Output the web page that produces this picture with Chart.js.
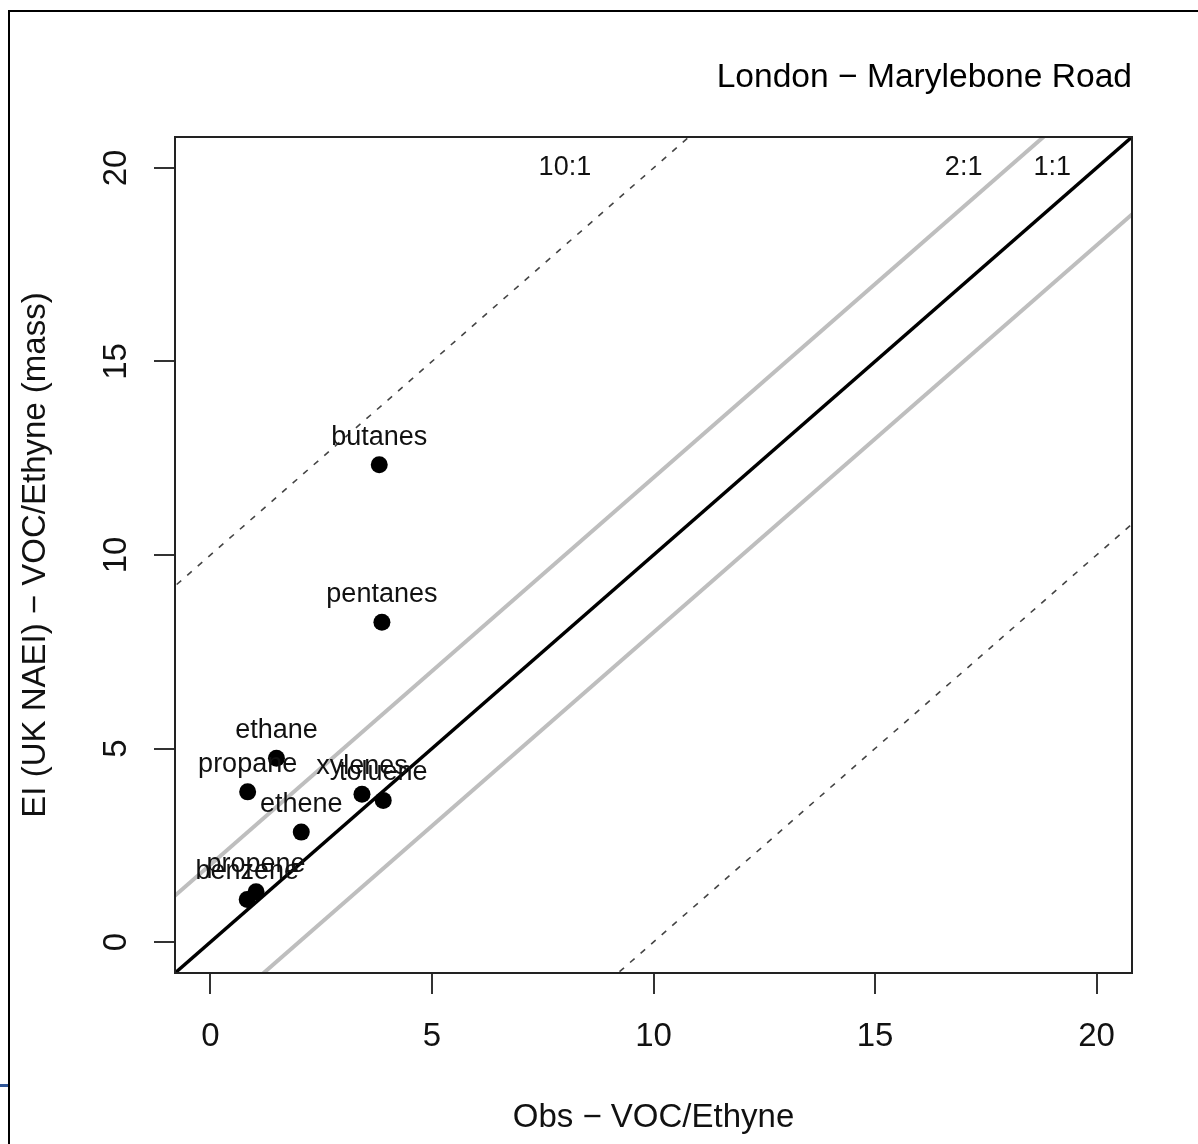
<!DOCTYPE html>
<html>
<head>
<meta charset="utf-8">
<script src="https://cdn.jsdelivr.net/npm/chart.js@4/dist/chart.umd.min.js"></script>
<style>
  html, body { margin: 0; padding: 0; background: #fff; }
  #wrap { position: relative; width: 1198px; height: 1144px; overflow: hidden; }
  #c { position: absolute; left: 0; top: 0; }
  #frame { position: absolute; left: 8px; top: 10px; width: 1300px; height: 1300px;
           border-left: 2px solid #000; border-top: 2px solid #000; pointer-events: none; }
  #mark { position: absolute; left: 0; top: 1084px; width: 8px; height: 3px; background: #2f5597; }
</style>
</head>
<body>
<div id="wrap">
  <canvas id="c" width="1198" height="1144"></canvas>
  <div id="frame"></div>
  <div id="mark"></div>
</div>
<script>
// VOC/ethyne ratios: observed vs. emission inventory (UK NAEI)
const species  = ['butanes', 'pentanes', 'ethane', 'propane', 'xylenes', 'toluene', 'ethene', 'propene', 'benzene'];
const obsRatio = [3.81, 3.87, 1.49, 0.84, 3.42, 3.90, 2.05, 1.03, 0.83];
const eiRatio  = [12.33, 8.26, 4.75, 3.88, 3.82, 3.66, 2.84, 1.30, 1.10];

// Reference lines y = x + offset
const refOffsets = [2, -2, 0, 10, -10];
const refColors  = ['#bebebe', '#bebebe', '#000000', '#444444', '#444444'];
const refWidths  = [4, 4, 3.5, 1.6, 1.6];
const refDashed  = [false, false, false, true, true];
const lineSpan   = [-1, 22];

// Reference line labels
const refLabelText = ['10:1', '2:1', '1:1'];
const refLabelX    = [8, 17, 19];
const refLabelY    = [20, 20, 20];

const xTicks = [0, 5, 10, 15, 20];
const yTicks = [0, 5, 10, 15, 20];
const axisMin = -0.8, axisMax = 20.8;

const titleText = 'London \u2212 Marylebone Road';
const xTitle = 'Obs \u2212 VOC/Ethyne';
const yTitle = 'EI (UK NAEI) \u2212 VOC/Ethyne (mass)';

const FONT = '"Liberation Sans", Arial, Helvetica, sans-serif';

const datasets = refOffsets.map((off, i) => ({
  data: lineSpan.map(x => ({ x: x, y: x + off })),
  showLine: true,
  pointRadius: 0,
  borderColor: refColors[i],
  borderWidth: refWidths[i],
  borderDash: refDashed[i] ? [6, 8] : [],
  clip: { left: 0, top: 0, right: 0, bottom: 0 }
}));
datasets.push({
  data: species.map((s, i) => ({ x: obsRatio[i], y: eiRatio[i] })),
  showLine: false,
  pointRadius: 8.5,
  pointBackgroundColor: '#000',
  pointBorderWidth: 0,
  clip: false
});

const decorPlugin = {
  id: 'decor',
  afterDatasetsDraw(chart) {
    const { ctx, chartArea: a, scales: { x, y } } = chart;
    ctx.save();
    // plot box
    ctx.strokeStyle = '#222';
    ctx.lineWidth = 2;
    ctx.strokeRect(a.left, a.top, a.right - a.left, a.bottom - a.top);

    // reference line labels
    ctx.fillStyle = '#111';
    ctx.font = '27px ' + FONT;
    ctx.textAlign = 'center';
    ctx.textBaseline = 'middle';
    refLabelText.forEach((t, i) => {
      ctx.fillText(t, x.getPixelForValue(refLabelX[i]), y.getPixelForValue(refLabelY[i]));
    });

    // species labels above points
    const meta = chart.getDatasetMeta(chart.data.datasets.length - 1);
    ctx.textBaseline = 'alphabetic';
    meta.data.forEach((pt, i) => {
      ctx.fillText(species[i], pt.x, pt.y - 20);
    });

    // title
    ctx.font = '33.6px ' + FONT;
    ctx.textAlign = 'right';
    ctx.fillStyle = '#000';
    ctx.fillText(titleText, a.right, 87);
    ctx.restore();
  }
};

new Chart(document.getElementById('c'), {
  type: 'scatter',
  data: { datasets },
  options: {
    responsive: false,
    animation: false,
    devicePixelRatio: 1,
    layout: { padding: { top: 137, right: 66, left: 0, bottom: 0 } },
    plugins: { legend: { display: false }, tooltip: { enabled: false } },
    scales: {
      x: {
        type: 'linear',
        min: axisMin, max: axisMax,
        afterBuildTicks: s => { s.ticks = xTicks.map(v => ({ value: v })); },
        afterFit: s => { s.height = 171; },
        grid: { drawOnChartArea: false, drawTicks: true, tickLength: 21, color: '#333', lineWidth: 2 },
        border: { display: true, color: '#222', width: 2 },
        ticks: { color: '#111', font: { family: FONT, size: 33 }, padding: 23, maxRotation: 0, minRotation: 0 },
        title: { display: true, text: xTitle, color: '#111', font: { family: FONT, size: 33 }, padding: { bottom: 6 } }
      },
      y: {
        type: 'linear',
        min: axisMin, max: axisMax,
        afterBuildTicks: s => { s.ticks = yTicks.map(v => ({ value: v })); },
        afterFit: s => { s.width = 175; },
        grid: { drawOnChartArea: false, drawTicks: true, tickLength: 21, color: '#333', lineWidth: 2 },
        border: { display: true, color: '#222', width: 2 },
        ticks: { color: '#111', font: { family: FONT, size: 33 }, padding: 19, minRotation: 90, maxRotation: 90, crossAlign: 'center' },
        title: { display: true, text: yTitle, color: '#111', font: { family: FONT, size: 33 }, padding: { top: 16 } }
      }
    }
  },
  plugins: [decorPlugin]
});
</script>
</body>
</html>
